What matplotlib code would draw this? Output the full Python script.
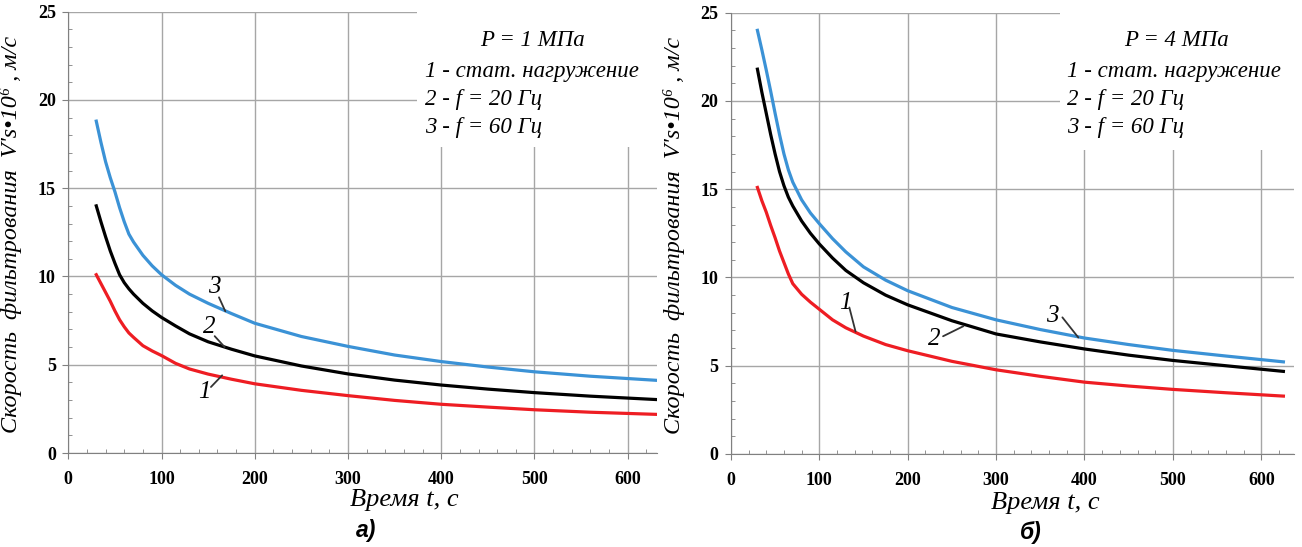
import matplotlib
matplotlib.use("Agg")
import matplotlib.pyplot as plt
from matplotlib.patches import Rectangle
from matplotlib.ticker import MultipleLocator

# время, с
t_a = [30, 35, 40, 45, 50, 55, 60, 65, 70, 80, 90, 100, 115, 130, 150, 175, 200,
       250, 300, 350, 400, 450, 500, 560, 630]
t_b = [30, 35, 40, 45, 50, 55, 60, 65, 70, 80, 90, 100, 115, 130, 150, 175, 200,
       250, 300, 350, 400, 450, 500, 560, 625]

# P = 1 MPa
a_static = [10.1, 9.6, 9.1, 8.6, 8.05, 7.55, 7.15, 6.8, 6.55, 6.08, 5.78, 5.52, 5.08,
            4.76, 4.47, 4.18, 3.92, 3.55, 3.25, 2.98, 2.76, 2.6, 2.45, 2.31, 2.19]
a_f20 = [14.0, 13.1, 12.25, 11.45, 10.75, 10.1, 9.65, 9.3, 9.0, 8.48, 8.05, 7.68, 7.2,
         6.75, 6.3, 5.88, 5.5, 4.93, 4.48, 4.13, 3.85, 3.62, 3.42, 3.22, 3.03]
a_f60 = [18.8, 17.6, 16.5, 15.6, 14.8, 13.9, 13.1, 12.4, 11.95, 11.2, 10.6, 10.1, 9.5,
         9.0, 8.48, 7.9, 7.35, 6.6, 6.04, 5.55, 5.18, 4.87, 4.6, 4.35, 4.12]

# P = 4 MPa
b_static = [15.1, 14.35, 13.7, 12.95, 12.25, 11.5, 10.85, 10.2, 9.65, 9.05, 8.6, 8.2, 7.6,
            7.15, 6.68, 6.2, 5.85, 5.25, 4.77, 4.4, 4.07, 3.85, 3.66, 3.47, 3.28]
b_f20 = [21.8, 20.5, 19.3, 18.1, 17.0, 16.0, 15.2, 14.55, 14.05, 13.2, 12.5, 11.9, 11.1,
         10.4, 9.7, 9.0, 8.45, 7.55, 6.8, 6.35, 5.95, 5.6, 5.3, 5.0, 4.68]
b_f60 = [24.0, 22.9, 21.75, 20.55, 19.3, 18.1, 17.0, 16.1, 15.4, 14.4, 13.65, 13.05, 12.2,
         11.45, 10.6, 9.85, 9.25, 8.3, 7.6, 7.05, 6.57, 6.2, 5.87, 5.55, 5.22]

legend_lines = ["1 - стат. нагружение", "2 - f = 20 Гц", "3 - f = 60 Гц"]

RED = "#ee1d23"
BLUE = "#3b92d6"
GRID = "#a6a6a6"
serif = ["Liberation Serif", "DejaVu Serif"]

W, H = 1302, 547
fig = plt.figure(figsize=(W / 100, H / 100), dpi=100)


def px(x, y):
    return x / W, 1 - y / H


ax1 = fig.add_axes([68.3 / W, 1 - 453 / H, 588.3 / W, 441.3 / H])
ax2 = fig.add_axes([730.9 / W, 1 - 454 / H, 563.1 / W, 441.3 / H])


def style(ax, xmax):
    ax.set_xlim(0, xmax)
    ax.set_ylim(0, 25)
    ax.xaxis.set_major_locator(MultipleLocator(100))
    ax.xaxis.set_minor_locator(MultipleLocator(20))
    ax.yaxis.set_major_locator(MultipleLocator(5))
    ax.yaxis.set_minor_locator(MultipleLocator(1))
    ax.set_axisbelow(True)
    ax.grid(True, which="major", color=GRID, lw=1.0)
    for s in ["top", "right"]:
        ax.spines[s].set_visible(False)
    for s in ["left", "bottom"]:
        ax.spines[s].set_color("#808080")
    ax.tick_params(which="major", direction="out", length=4, color="#808080")
    ax.tick_params(which="minor", direction="in", length=3, color="#808080")
    ax.tick_params(axis="x", which="major", pad=9)
    ax.tick_params(axis="y", which="major", pad=5)
    for lab in ax.get_xticklabels() + ax.get_yticklabels():
        lab.set_family(serif)
        lab.set_fontweight("bold")
        lab.set_fontsize(13)


for ax, xmax in [(ax1, 631), (ax2, 637)]:
    style(ax, xmax)

ax1.plot(t_a, a_static, color=RED, lw=2.3)
ax1.plot(t_a, a_f20, color="black", lw=2.3)
ax1.plot(t_a, a_f60, color=BLUE, lw=2.3)
ax2.plot(t_b, b_static, color=RED, lw=2.3)
ax2.plot(t_b, b_f20, color="black", lw=2.3)
ax2.plot(t_b, b_f60, color=BLUE, lw=2.3)

# white boxes under the legend text
ax1.add_patch(Rectangle((374, 17.33), 300, 9, facecolor="white", edgecolor="none",
                        zorder=1.5, clip_on=False))
ax2.add_patch(Rectangle((372, 17.2), 300, 9, facecolor="white", edgecolor="none",
                        zorder=1.5, clip_on=False))

ylab = "Скорость  фильтрования  V's•10⁶ , м/с"
for ax, ylx, xlx, xly in [(ax1, -0.0787, 0.571, -0.106), (ax2, -0.0815, 0.558, -0.111)]:
    ax.set_ylabel(ylab, family=serif, style="italic", fontsize=17.4)
    ax.yaxis.set_label_coords(ylx, 0.496)
    ax.set_xlabel("Время t, с", family=serif, style="italic", fontsize=19)
    ax.xaxis.label.set_va("center")
    ax.xaxis.set_label_coords(xlx, xly)


def lead(ax, num, tx, ty, x0, y0, x1, y1):
    ax.text(tx, ty, num, family=serif, style="italic", fontsize=18,
            ha="center", va="center")
    ax.annotate("", xy=(x1, y1), xytext=(x0, y0),
                arrowprops=dict(arrowstyle="-", lw=1.3, color="#333333",
                                shrinkA=0, shrinkB=0))


lead(ax1, "3", 157, 9.38, 161.6, 8.82, 168.4, 8.03)
lead(ax1, "2", 150.8, 7.12, 157, 6.62, 167.7, 6.0)
lead(ax1, "1", 146, 3.46, 153, 3.74, 165, 4.4)
lead(ax2, "1", 129, 8.55, 134, 8.3, 141, 6.94)
lead(ax2, "2", 230, 6.5, 240, 6.67, 263, 7.24)
lead(ax2, "3", 364, 7.84, 375, 7.74, 393, 6.6)

# legend text
for title, cx, lx in [("P = 1 МПа", 533, 425), ("P = 4 МПа", 1177, 1067)]:
    fig.text(*px(cx, 40), title, family=serif, style="italic", fontsize=16.5,
             ha="center", va="center")
    for i, line in enumerate(legend_lines):
        fig.text(*px(lx, 72 + 28 * i), line, family=serif, style="italic",
                 fontsize=16.5, ha="left", va="center")

fig.text(*px(366, 530), "а)", family=["Liberation Sans", "DejaVu Sans"],
         style="italic", fontweight="bold", fontsize=16.5, ha="center", va="center")
fig.text(*px(1031, 532), "б)", family=["Liberation Sans", "DejaVu Sans"],
         style="italic", fontweight="bold", fontsize=16.5, ha="center", va="center")

fig.savefig("out.png", dpi=100)
